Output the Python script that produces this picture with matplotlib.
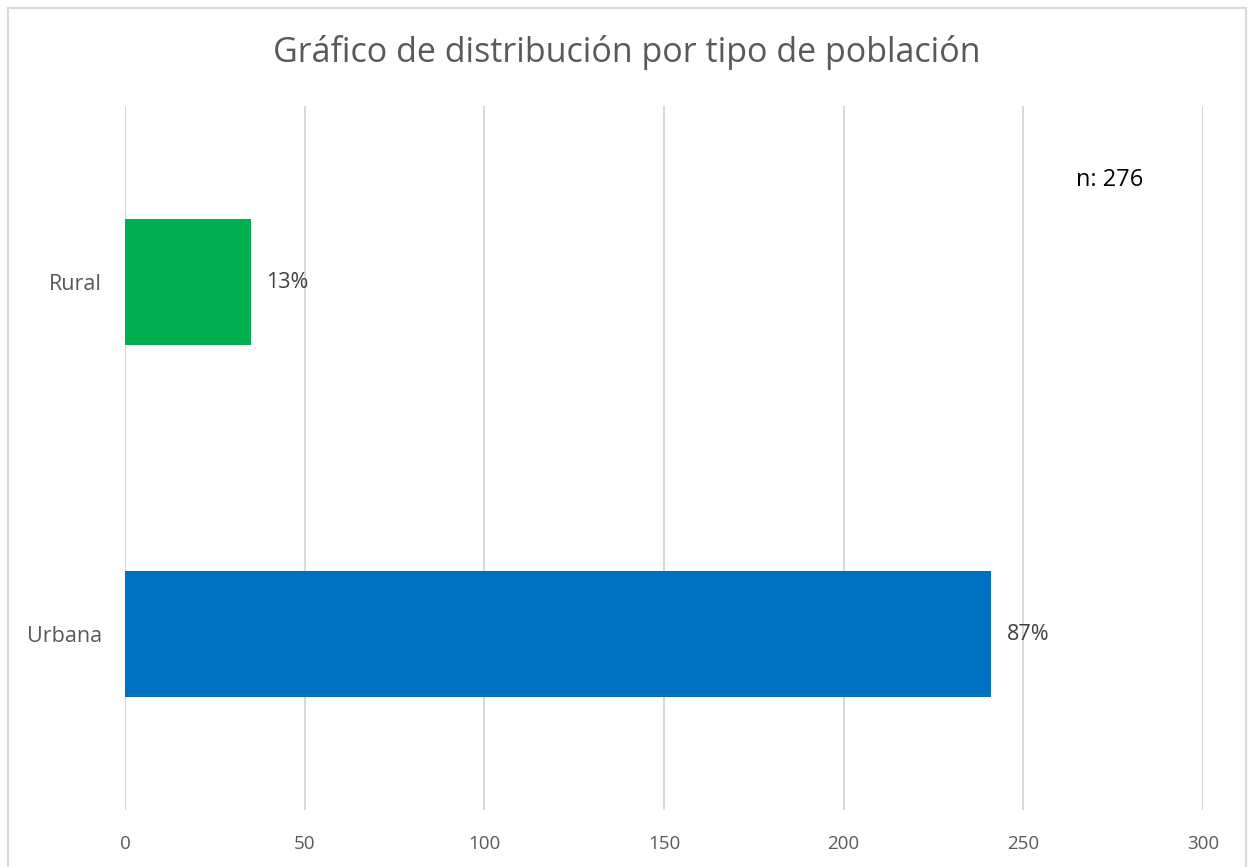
import matplotlib.pyplot as plt
from matplotlib.patches import Rectangle

# Data
categories = ['Urbana', 'Rural']
counts = [241, 35]
pct_labels = ['87%', '13%']
colors = ['#0070C0', '#00B050']
total_n = 276
xticks = [0, 50, 100, 150, 200, 250, 300]

plt.rcParams['font.family'] = ['Open Sans', 'DejaVu Sans']

fig = plt.figure(figsize=(12.54, 8.67), dpi=100)
ax = fig.add_axes([125 / 1254, 57 / 867, 1078 / 1254, 704 / 867])

# chart area border
fig.patches.append(Rectangle((8 / 1254, -0.05), 1238 / 1254, 1.05 - 8 / 867,
                             transform=fig.transFigure, fill=False,
                             edgecolor='#D9D9D9', linewidth=1.5))

y = list(range(len(categories)))
bars = ax.barh(y, counts, height=0.36, color=colors, zorder=3)

for bar, lab in zip(bars, pct_labels):
    ax.text(bar.get_width() + 4.3, bar.get_y() + bar.get_height() / 2, lab,
            ha='left', va='center', fontsize=15.5, color='#404040')

ax.set_xlim(0, 300)
ax.set_ylim(-0.5, 1.5)
ax.set_xticks(xticks)
ax.set_yticks(y)
ax.set_yticklabels(categories, fontsize=15.5)
ax.tick_params(axis='both', length=0, labelcolor='#595959')
ax.tick_params(axis='x', pad=18, labelsize=13.5)
ax.tick_params(axis='y', pad=16.5)
ax.grid(axis='x', color='#D9D9D9', linewidth=1.5, zorder=0)
for s in ax.spines.values():
    s.set_visible(False)

ax.text(274, 1.29, f'n: {total_n}', ha='center', va='center',
        fontsize=17, color='black')

fig.text(0.5, 1 - 52 / 867, 'Gráfico de distribución por tipo de población',
         ha='center', va='center', fontsize=24.5, color='#595959')

fig.savefig('out.png', dpi=100)
